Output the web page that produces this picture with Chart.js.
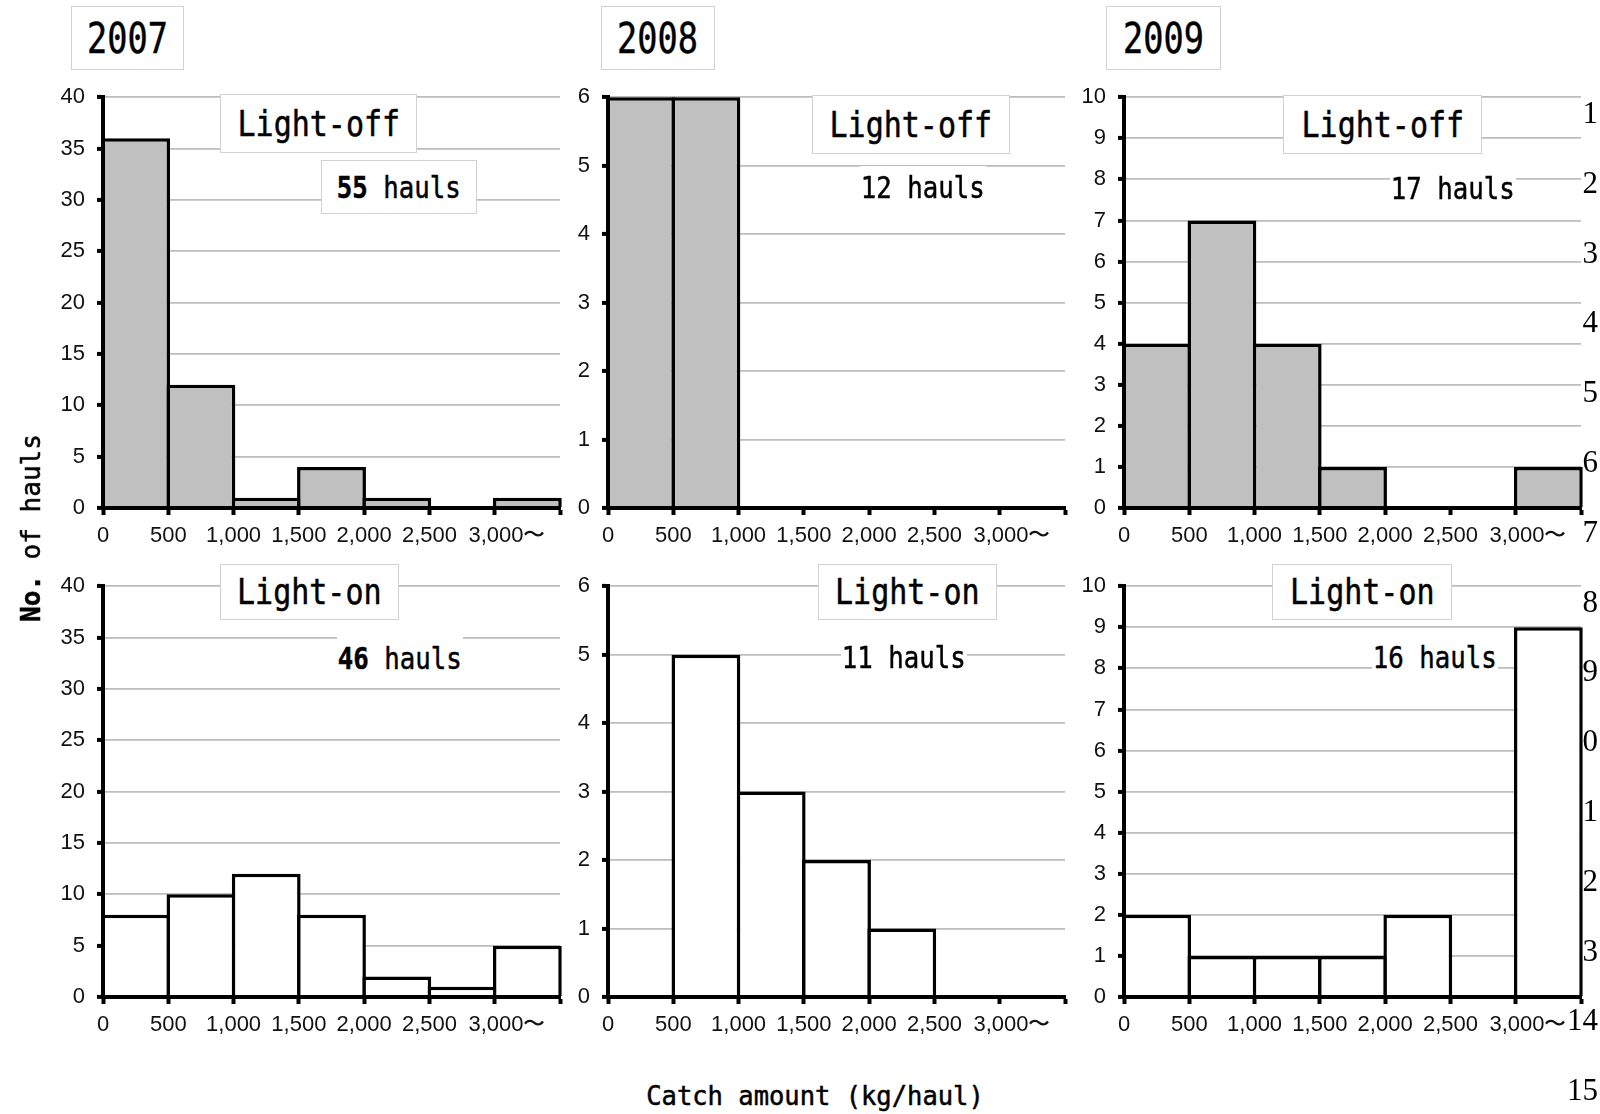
<!DOCTYPE html>
<html>
<head>
<meta charset="utf-8">
<script src="https://cdn.jsdelivr.net/npm/chart.js@4.4.0/dist/chart.umd.min.js"></script>
<style>
  html, body { margin: 0; padding: 0; background: #fff; }
  #page { position: relative; width: 1600px; height: 1114px; overflow: hidden; }
  .panel { position: absolute; }
  .lbl { position: absolute; display: flex; align-items: center; justify-content: center;
         background: #fff; box-sizing: border-box; white-space: nowrap; z-index: 5; }
  .boxed { border: 1.5px solid #d2d2d2; }
  .mono { font-family: 'DejaVu Sans Mono', monospace; color: #000; -webkit-text-stroke: 0.5px #000; }
  .lbl span { display: inline-block; }
  .lineno { position: absolute; right: 2px; font-family: 'Liberation Serif', serif; font-size: 31px;
            color: #000; line-height: 1; z-index: 6; }
</style>
</head>
<body>
<div id="page"></div>
<script>
// bin edges (kg/haul) and their tick labels
const bins = [0, 500, 1000, 1500, 2000, 2500, 3000, 3500];
const xTickLabels = ['0', '500', '1,000', '1,500', '2,000', '2,500', '    3,000〜', ''];

const years = ['2007', '2008', '2009'];

// number of hauls in each bin
const lightOff2007 = [36, 12, 1, 4, 1, 0, 1];
const lightOff2008 = [6, 6, 0, 0, 0, 0, 0];
const lightOff2009 = [4, 7, 4, 1, 0, 0, 1];
const lightOn2007 = [8, 10, 12, 8, 2, 1, 5];
const lightOn2008 = [0, 5, 3, 2, 1, 0, 0];
const lightOn2009 = [2, 1, 1, 1, 2, 0, 9];

// y axis range per year
const yMaxes = [40, 6, 10];
const ySteps = [5, 1, 1];

// right margin line numbers of the manuscript
const lineNumbers = ['1', '2', '3', '4', '5', '6', '7', '8', '9', '0', '1', '2', '3', '14', '15'];

// ---- layout (pixels) ----
const plotLefts = [103, 608, 1124];
const plotTops = [86, 575];
const plotW = 457, plotH = 422;
const yAxisW = 60, xAxisH = 45, padTop = 14, padRight = 20;
const barLine = 3.5;

const page = document.getElementById('page');

function sum(a) { return a.reduce((s, v) => s + v, 0); }

function makePanel(col, row, counts, fill) {
  const wrap = document.createElement('div');
  wrap.className = 'panel';
  const w = yAxisW + plotW + padRight, h = padTop + plotH + xAxisH;
  wrap.style.left = (plotLefts[col] - yAxisW) + 'px';
  wrap.style.top = (plotTops[row] - padTop) + 'px';
  wrap.style.width = w + 'px';
  wrap.style.height = h + 'px';
  const cv = document.createElement('canvas');
  cv.width = w; cv.height = h;
  wrap.appendChild(cv);
  page.appendChild(wrap);

  const points = counts.map((c, i) => ({ x: (bins[i] + bins[i + 1]) / 2, y: c }));
  // widen bars by one border so neighbouring borders overlap into a single line
  const binPx = plotW / (bins.length - 1);

  new Chart(cv, {
    type: 'bar',
    data: {
      datasets: [{
        data: points,
        backgroundColor: fill,
        borderColor: '#000',
        borderWidth: ctx => (ctx.raw && ctx.raw.y > 0 ? barLine : 0),
        borderSkipped: 'start',
        barPercentage: 1 + barLine / binPx,
        categoryPercentage: 1,
        clip: false
      }]
    },
    options: {
      responsive: false,
      animation: false,
      layout: { padding: { top: padTop, right: padRight, left: 0, bottom: 0 } },
      plugins: { legend: { display: false }, tooltip: { enabled: false } },
      scales: {
        x: {
          type: 'linear', min: bins[0], max: bins[bins.length - 1], offset: false,
          grid: { drawOnChartArea: false, offset: false, tickLength: 7, tickColor: '#000', tickWidth: 4 },
          border: { color: '#000', width: 4, z: 1 },
          ticks: {
            stepSize: 500, autoSkip: false, maxRotation: 0, padding: 8, color: '#111',
            font: { family: 'Liberation Sans', size: 22 },
            callback: v => { const i = bins.indexOf(v); return i >= 0 ? xTickLabels[i] : ''; }
          },
          afterFit: s => { s.height = xAxisH; }
        },
        y: {
          min: 0, max: yMaxes[col],
          grid: { color: '#bdbdbd', lineWidth: 1.8, tickColor: '#000', tickWidth: 4, tickLength: 6 },
          border: { color: '#000', width: 4, z: 1 },
          ticks: { stepSize: ySteps[col], padding: 12, color: '#111', font: { family: 'Liberation Sans', size: 22 } },
          afterFit: s => { s.width = yAxisW; }
        }
      }
    }
  });
}

makePanel(0, 0, lightOff2007, '#c0c0c0');
makePanel(1, 0, lightOff2008, '#c0c0c0');
makePanel(2, 0, lightOff2009, '#c0c0c0');
makePanel(0, 1, lightOn2007, '#ffffff');
makePanel(1, 1, lightOn2008, '#ffffff');
makePanel(2, 1, lightOn2009, '#ffffff');

// text boxes
function label(text, x, y, w, h, opts) {
  const d = document.createElement('div');
  d.className = 'lbl mono' + (opts.boxed ? ' boxed' : '');
  d.style.left = x + 'px'; d.style.top = y + 'px';
  d.style.width = w + 'px'; d.style.height = h + 'px';
  const s = document.createElement('span');
  s.innerHTML = text;
  s.style.fontSize = opts.size + 'px';
  s.style.transform = 'scaleX(' + (opts.sx || 1) + ')';
  d.appendChild(s);
  page.appendChild(d);
}

const yearBoxes = [[71, 6, 113, 64], [601, 6, 114, 64], [1106, 6, 115, 64]];
const offBoxes = [[220, 94, 197, 59], [812, 95, 198, 59], [1283, 95, 199, 59]];
const onBoxes = [[220, 564, 179, 56], [818, 564, 179, 56], [1272, 564, 180, 56]];
const offHaulBoxes = [[321, 160, 156, 54], [860, 166, 126, 42], [1390, 167, 126, 42]];
const onHaulBoxes = [[337, 637, 126, 42], [841, 636, 126, 42], [1372, 636, 126, 42]];
const offCounts = [lightOff2007, lightOff2008, lightOff2009];
const onCounts = [lightOn2007, lightOn2008, lightOn2009];

years.forEach((yr, i) => {
  const b = yearBoxes[i];
  label(yr, b[0], b[1], b[2], b[3], { boxed: true, size: 42, sx: 0.8 });
  const o = offBoxes[i];
  label('Light-off', o[0], o[1], o[2], o[3], { boxed: true, size: 35, sx: 0.857 });
  const n = onBoxes[i];
  label('Light-on', n[0], n[1], n[2], n[3], { boxed: true, size: 35, sx: 0.857 });
  const ho = offHaulBoxes[i];
  const nOff = sum(offCounts[i]);
  label((i === 0 ? '<b>' + nOff + '</b>' : nOff) + ' hauls', ho[0], ho[1], ho[2], ho[3],
        { boxed: i === 0, size: 31, sx: 0.83 });
  const hn = onHaulBoxes[i];
  const nOn = sum(onCounts[i]);
  label((i === 0 ? '<b>' + nOn + '</b>' : nOn) + ' hauls', hn[0], hn[1], hn[2], hn[3],
        { size: 31, sx: 0.83 });
});

// axis titles
const yTitle = document.createElement('div');
yTitle.className = 'mono';
yTitle.style.cssText = 'position:absolute;left:31px;top:528px;font-size:26px;white-space:nowrap;' +
  'transform:translate(-50%,-50%) rotate(-90deg);z-index:5;';
yTitle.innerHTML = '<b>No.</b> of hauls';
page.appendChild(yTitle);

const xTitle = document.createElement('div');
xTitle.className = 'mono';
xTitle.style.cssText = 'position:absolute;left:815px;top:1096px;font-size:26px;white-space:nowrap;' +
  'transform:translate(-50%,-50%) scaleX(0.98);z-index:5;';
xTitle.textContent = 'Catch amount (kg/haul)';
page.appendChild(xTitle);

// manuscript line numbers
lineNumbers.forEach((t, i) => {
  const d = document.createElement('div');
  d.className = 'lineno';
  d.style.top = (112 + i * 69.8 - 15) + 'px';
  d.textContent = t;
  page.appendChild(d);
});
</script>
</body>
</html>
